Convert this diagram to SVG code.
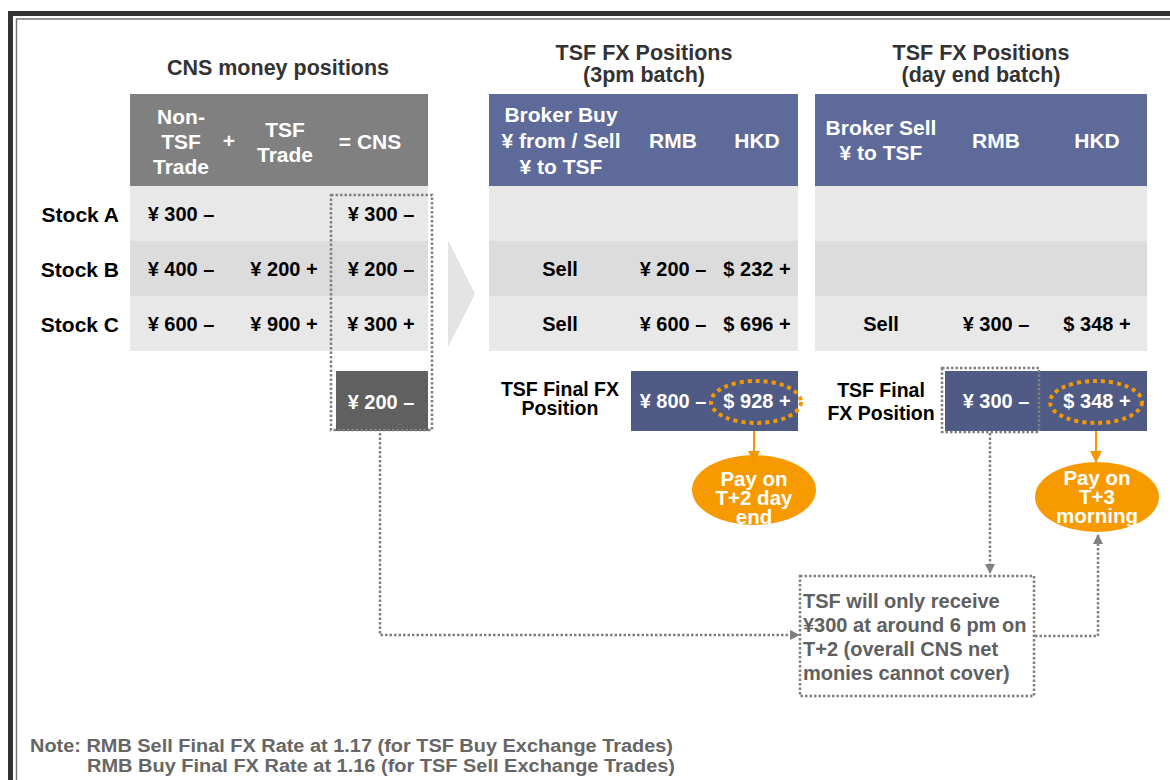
<svg xmlns="http://www.w3.org/2000/svg" width="1170" height="780" viewBox="0 0 1170 780">
<defs>
<style>
text{font-family:"Liberation Sans",Arial,sans-serif;font-weight:bold}
.t{font-size:21.5px;fill:#333;text-anchor:middle}
.hd{font-size:21px;fill:#fff;text-anchor:middle}
.v{font-size:20px;fill:#000;text-anchor:middle}
.w{font-size:20px;fill:#fff;text-anchor:middle}
.lbl{font-size:21px;fill:#000;text-anchor:end}
.fl{font-size:19.5px;fill:#000;text-anchor:middle}
.pay{font-size:20.5px;fill:#fff;text-anchor:middle}
.note{font-size:18px;fill:#666}
.dot{fill:none;stroke:#808080;stroke-width:2.5;stroke-dasharray:2.5 2}
.odot{fill:none;stroke:#f39800;stroke-width:4;stroke-dasharray:4 4}
</style>
<marker id="ga" markerWidth="10" markerHeight="10" refX="9" refY="5" orient="auto" markerUnits="userSpaceOnUse" viewBox="0 0 10 10">
<path d="M0,0 L10,5 L0,10 z" fill="#808080"/>
</marker>
<marker id="oa" markerWidth="16" markerHeight="12" refX="12" refY="6" orient="auto" markerUnits="userSpaceOnUse" viewBox="0 0 12 12">
<path d="M0,0 L12,6 L0,12 z" fill="#f39800"/>
</marker>
</defs>
<rect width="1170" height="780" fill="#fff"/>
<g id="frame">
<rect x="10.5" y="13.5" width="1180" height="800" fill="none" stroke="#333" stroke-width="5"/>
<rect x="16.5" y="19" width="1170" height="790" fill="none" stroke="#777" stroke-width="1.5"/>
</g>

<g id="titles">
<text class="t" x="278" y="75">CNS money positions</text>
<text class="t" x="644" y="60">TSF FX Positions</text>
<text class="t" x="644" y="82">(3pm batch)</text>
<text class="t" x="981" y="60">TSF FX Positions</text>
<text class="t" x="981" y="82">(day end batch)</text>
</g>

<g id="cns-table">
<rect x="130" y="94" width="298" height="92" fill="#808080"/>
<rect x="130" y="186" width="298" height="55" fill="#e8e8e8"/>
<rect x="130" y="241" width="298" height="55" fill="#dcdcdc"/>
<rect x="130" y="296" width="298" height="55" fill="#e8e8e8"/>
<text class="hd" x="181" y="124">Non-</text>
<text class="hd" x="181" y="149">TSF</text>
<text class="hd" x="181" y="174">Trade</text>
<text class="hd" x="229" y="148">+</text>
<text class="hd" x="285" y="137">TSF</text>
<text class="hd" x="285" y="162">Trade</text>
<text class="hd" x="370" y="149">= CNS</text>
<text class="lbl" x="119" y="222">Stock A</text>
<text class="lbl" x="119" y="277">Stock B</text>
<text class="lbl" x="119" y="332">Stock C</text>
<text class="v" x="181" y="221">¥ 300 –</text>
<text class="v" x="181" y="276">¥ 400 –</text>
<text class="v" x="181" y="331">¥ 600 –</text>
<text class="v" x="284" y="276">¥ 200 +</text>
<text class="v" x="284" y="331">¥ 900 +</text>
<text class="v" x="381" y="221">¥ 300 –</text>
<text class="v" x="381" y="276">¥ 200 –</text>
<text class="v" x="381" y="331">¥ 300 +</text>
</g>

<g id="cns-total">
<rect x="336" y="371" width="92" height="60" fill="#606060"/>
<text class="w" x="381" y="409">¥ 200 –</text>
<rect class="dot" x="331" y="195" width="101" height="235"/>
</g>

<g id="chevron">
<path d="M448,240 L475,294 L448,347 z" fill="#e3e3e3"/>
</g>

<g id="fx-3pm">
<rect x="489" y="94" width="309" height="92" fill="#5d6a9a"/>
<rect x="489" y="186" width="309" height="55" fill="#e8e8e8"/>
<rect x="489" y="241" width="309" height="55" fill="#dcdcdc"/>
<rect x="489" y="296" width="309" height="55" fill="#e8e8e8"/>
<text class="hd" x="561" y="122">Broker Buy</text>
<text class="hd" x="561" y="148">¥ from / Sell</text>
<text class="hd" x="561" y="174">¥ to TSF</text>
<text class="hd" x="673" y="148">RMB</text>
<text class="hd" x="757" y="148">HKD</text>
<text class="v" x="560" y="276">Sell</text>
<text class="v" x="673" y="276">¥ 200 –</text>
<text class="v" x="757" y="276">$ 232 +</text>
<text class="v" x="560" y="331">Sell</text>
<text class="v" x="673" y="331">¥ 600 –</text>
<text class="v" x="757" y="331">$ 696 +</text>
</g>

<g id="fx-3pm-final">
<text class="fl" x="560" y="396">TSF Final FX</text>
<text class="fl" x="560" y="415">Position</text>
<rect x="631" y="371" width="167" height="60" fill="#4f5a85"/>
<text class="w" x="673" y="408">¥ 800 –</text>
<text class="w" x="757" y="408">$ 928 +</text>
<ellipse class="odot" cx="756" cy="402" rx="45" ry="21"/>
</g>

<g id="pay-t2">
<ellipse cx="754" cy="490" rx="62" ry="35" fill="#f79a00"/>
<text class="pay" x="754" y="486">Pay on</text>
<text class="pay" x="754" y="505">T+2 day</text>
<text class="pay" x="754" y="524">end</text>
</g>

<g id="fx-dayend">
<rect x="815" y="94" width="332" height="92" fill="#5d6a9a"/>
<rect x="815" y="186" width="332" height="55" fill="#e8e8e8"/>
<rect x="815" y="241" width="332" height="55" fill="#dcdcdc"/>
<rect x="815" y="296" width="332" height="55" fill="#e8e8e8"/>
<text class="hd" x="881" y="135">Broker Sell</text>
<text class="hd" x="881" y="160">¥ to TSF</text>
<text class="hd" x="996" y="148">RMB</text>
<text class="hd" x="1097" y="148">HKD</text>
<text class="v" x="881" y="331">Sell</text>
<text class="v" x="996" y="331">¥ 300 –</text>
<text class="v" x="1097" y="331">$ 348 +</text>
</g>

<g id="fx-dayend-final">
<text class="fl" x="881" y="397">TSF Final</text>
<text class="fl" x="881" y="420">FX Position</text>
<rect x="945" y="371" width="202" height="60" fill="#4f5a85"/>
<text class="w" x="996" y="408">¥ 300 –</text>
<text class="w" x="1097" y="408">$ 348 +</text>
<rect class="dot" x="942" y="368" width="97" height="64"/>
<ellipse class="odot" cx="1096" cy="402" rx="46" ry="21"/>
</g>

<g id="pay-t3">
<ellipse cx="1097" cy="497" rx="62" ry="35" fill="#f79a00"/>
<text class="pay" x="1097" y="485">Pay on</text>
<text class="pay" x="1097" y="504">T+3</text>
<text class="pay" x="1097" y="523">morning</text>
</g>

<g id="note-box">
<rect class="dot" x="800" y="576" width="234" height="120"/>
<g style="font-size:20px;fill:#606060">
<text x="803" y="608">TSF will only receive</text>
<text x="803" y="632">¥300 at around 6 pm on</text>
<text x="803" y="656">T+2 (overall CNS net</text>
<text x="803" y="680">monies cannot cover)</text>
</g>
</g>

<g id="connectors">
<path d="M754,431 V463" fill="none" stroke="#f39800" stroke-width="2" marker-end="url(#oa)"/>
<path d="M1096,431 V463" fill="none" stroke="#f39800" stroke-width="2" marker-end="url(#oa)"/>
<path class="dot" d="M990,433 V573" marker-end="url(#ga)"/>
<path class="dot" d="M380,433 V635 H799" marker-end="url(#ga)"/>
<path class="dot" d="M1035,636 H1098 V535" marker-end="url(#ga)"/>
</g>

<g id="footnote">
<text class="note" x="30" y="752" textLength="643" lengthAdjust="spacingAndGlyphs">Note: RMB Sell Final FX Rate at 1.17 (for TSF Buy Exchange Trades)</text>
<text class="note" x="87" y="772" textLength="588" lengthAdjust="spacingAndGlyphs">RMB Buy Final FX Rate at 1.16 (for TSF Sell Exchange Trades)</text>
</g>
</svg>
